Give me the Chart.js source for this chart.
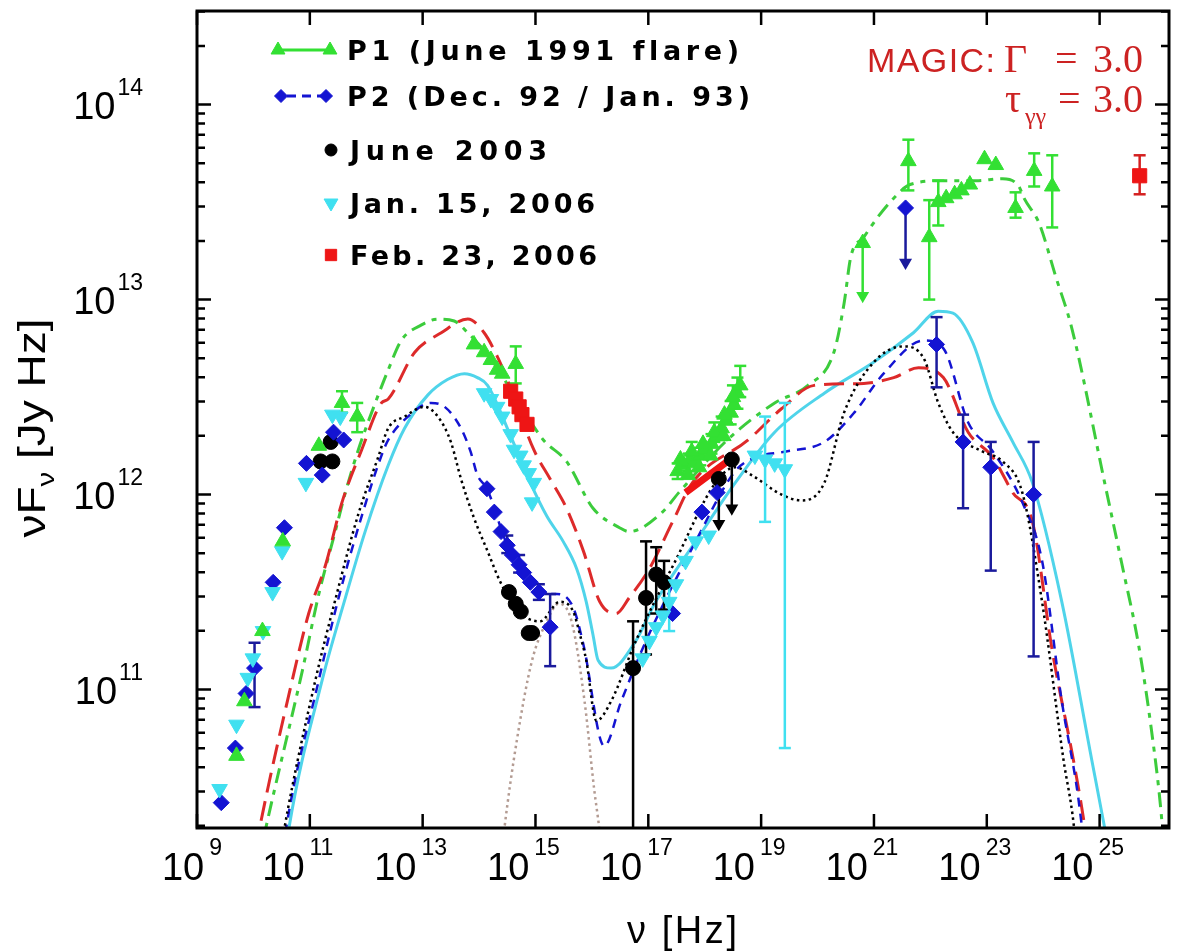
<!DOCTYPE html>
<html>
<head>
<meta charset="utf-8">
<script src="https://cdn.jsdelivr.net/npm/chart.js"></script>
<style>
  body { margin: 0; background: #fff; }
  #wrap { width: 1180px; height: 952px; }
</style>
</head>
<body>
<div id="wrap"><canvas id="sed" width="1180" height="952"></canvas></div>
<script>
// every value below is log10: [log nu (Hz), log nuFnu (Jy Hz), err low, err high]
const xTickExps = [9, 11, 13, 15, 17, 19, 21, 23, 25];
const yTickExps = [11, 12, 13, 14];
const yMinorSteps = [2, 3, 4, 5, 6, 7, 8, 9];
const xRange = [9, 26.23];
const yRange = [10.29, 14.48];

const legendLabels = ["P1 (June 1991 flare)", "P2 (Dec. 92 / Jan. 93)", "June 2003", "Jan. 15, 2006", "Feb. 23, 2006"];

// P1 (June 1991 flare)
const p1Points = [
  [9.70, 10.66], [9.84, 10.94], [10.16, 11.30], [10.52, 11.76], [11.16, 12.25],
  [11.57, 12.47, 12.42, 12.53], [11.84, 12.40, 12.32, 12.47],
  [13.91, 12.77], [14.09, 12.73], [14.21, 12.69], [14.32, 12.64], [14.41, 12.62], [14.65, 12.67, 12.57, 12.76],
  [17.52, 12.12, 12.08, 12.16], [17.62, 12.15], [17.72, 12.17, 12.12, 12.21], [17.82, 12.16],
  [17.92, 12.20, 12.15, 12.24], [18.02, 12.23], [18.12, 12.26, 12.21, 12.31], [18.22, 12.30],
  [18.30, 12.34, 12.28, 12.40], [18.38, 12.38], [18.46, 12.42, 12.36, 12.48], [18.52, 12.46],
  [18.58, 12.52, 12.44, 12.60], [18.63, 12.56, 12.50, 12.66],
  [17.57, 12.18], [17.77, 12.22, 12.18, 12.27], [17.97, 12.26], [18.17, 12.32, 12.27, 12.37],
  [18.35, 12.41], [18.50, 12.50, 12.44, 12.56], [17.70, 12.10], [17.90, 12.14], [18.10, 12.20], [18.33, 12.30],
  [20.80, 13.29], [21.61, 13.71, 13.56, 13.82], [21.98, 13.32, 13.00, 13.51], [22.14, 13.50, 13.38, 13.61],
  [22.28, 13.52], [22.43, 13.54], [22.55, 13.56], [22.70, 13.59], [22.96, 13.72], [23.16, 13.69],
  [23.51, 13.47, 13.42, 13.55], [23.84, 13.66, 13.58, 13.75], [24.16, 13.58, 13.37, 13.74]
];
const p1Limits = [[20.80, 13.29, 13.02]];

// P2 (Dec. 92 / Jan. 93)
const p2Points = [
  [9.43, 10.42], [9.68, 10.70], [9.87, 10.98], [10.02, 11.11, 10.91, 11.24], [10.35, 11.55], [10.55, 11.83],
  [10.94, 12.16], [11.22, 12.10], [11.42, 12.32], [11.60, 12.28],
  [14.14, 12.03], [14.27, 11.91], [14.39, 11.81], [14.50, 11.74, 11.70, 11.79], [14.59, 11.69],
  [14.71, 11.64, 11.60, 11.69], [14.79, 11.60], [14.91, 11.55], [15.06, 11.50, 11.46, 11.54],
  [15.26, 11.32, 11.12, 11.49],
  [17.43, 11.39], [17.95, 11.91], [18.22, 12.01],
  [21.56, 13.47], [22.11, 12.77, 12.55, 12.91], [22.58, 12.27, 11.93, 12.41],
  [23.07, 12.14, 11.61, 12.27], [23.83, 12.00, 11.17, 12.27]
];
const p2Limits = [[21.56, 13.47, 13.19]];

// June 2003
const june03Points = [
  [11.19, 12.17], [11.40, 12.17], [11.37, 12.27],
  [14.53, 11.50], [14.65, 11.44], [14.74, 11.40], [14.88, 11.29], [14.94, 11.29],
  [16.73, 11.11, 10.20, 11.35], [16.96, 11.47, 11.18, 11.76], [17.14, 11.59, 11.39, 11.73],
  [17.28, 11.55, 11.41, 11.66],
  [18.25, 12.08], [18.48, 12.18]
];
const june03Limits = [[18.25, 12.08, 11.85], [18.48, 12.18, 11.93]];

// Jan. 15, 2006
const jan06Points = [
  [9.40, 10.49], [9.70, 10.82], [9.90, 11.06], [9.99, 11.16], [10.17, 11.30], [10.34, 11.50], [10.51, 11.71],
  [10.93, 12.06], [11.40, 12.41], [11.54, 12.40],
  [14.09, 12.52], [14.21, 12.49], [14.32, 12.45], [14.41, 12.40], [14.56, 12.31], [14.62, 12.23],
  [14.73, 12.20], [14.79, 12.15], [14.88, 12.11], [14.97, 12.06], [14.94, 11.96],
  [16.90, 11.16], [17.02, 11.25], [17.14, 11.32], [17.26, 11.38], [17.37, 11.45, 11.30, 11.55],
  [17.49, 11.54], [17.66, 11.66], [17.84, 11.76], [18.07, 11.79],
  [18.89, 12.20], [19.07, 12.18, 11.86, 12.40], [19.24, 12.16], [19.42, 12.13, 10.70, 12.47]
];

// Feb. 23, 2006
const feb06Points = [
  [14.56, 12.53], [14.65, 12.49], [14.71, 12.45], [14.76, 12.41], [14.85, 12.36],
  [25.71, 13.635, 13.54, 13.74]
];
const feb06Xray = [[17.66, 12.01], [18.54, 12.20]];

// model curves
const p1Model = [
  [10.14, 10.18], [10.22, 10.29], [10.87, 11.10], [11.16, 11.49], [11.45, 11.81], [11.63, 12.01], [11.86, 12.23],
  [12.16, 12.47], [12.39, 12.64], [12.62, 12.79], [12.98, 12.87], [13.27, 12.90], [13.56, 12.89], [13.80, 12.83],
  [14.20, 12.70], [14.60, 12.52], [15.14, 12.28], [15.55, 12.17], [16.02, 11.93], [16.49, 11.83], [16.66, 11.81],
  [17.25, 11.91], [17.54, 12.01], [18.40, 12.28], [19.24, 12.47], [19.83, 12.56], [20.29, 12.73], [20.47, 12.98],
  [20.59, 13.22], [20.82, 13.32], [21.06, 13.42], [21.35, 13.52], [21.64, 13.59], [22.23, 13.61], [22.81, 13.61],
  [23.28, 13.62], [23.57, 13.58], [23.66, 13.52], [23.93, 13.39], [24.22, 13.12], [24.51, 12.85], [25.09, 12.06],
  [25.39, 11.65], [25.69, 11.23], [25.92, 10.79], [26.09, 10.37], [26.14, 10.18]
];
const p2Model = [
  [10.53, 10.18], [10.58, 10.29], [11.16, 11.05], [11.51, 11.47], [11.92, 11.89], [12.27, 12.20], [12.39, 12.28],
  [12.74, 12.40], [13.15, 12.47], [13.39, 12.45], [13.68, 12.34], [13.85, 12.22], [13.97, 12.10], [14.14, 12.03],
  [14.50, 11.74], [14.91, 11.55], [15.08, 11.49], [15.38, 11.49], [15.67, 11.42], [15.85, 11.23], [16.22, 10.71],
  [16.52, 10.94], [16.96, 11.25], [17.84, 11.76], [18.54, 12.12], [18.89, 12.19], [19.42, 12.22], [20.12, 12.27],
  [20.65, 12.42], [21.17, 12.62], [21.88, 12.79], [22.23, 12.75], [22.67, 12.37], [23.11, 12.22], [23.63, 11.96],
  [23.98, 11.66], [24.33, 10.94], [24.60, 10.49], [24.69, 10.29], [24.74, 10.18]
];
const june03Model = [
  [10.49, 10.18], [10.55, 10.29], [11.10, 11.05], [11.46, 11.47], [11.86, 11.90], [12.21, 12.19], [12.39, 12.34],
  [12.68, 12.40], [13.03, 12.45], [13.27, 12.40], [13.50, 12.27], [13.68, 12.08], [13.91, 11.88], [14.15, 11.71],
  [14.38, 11.55], [14.70, 11.40], [15.08, 11.35], [15.43, 11.45], [15.67, 11.40], [15.79, 11.28], [15.90, 11.15],
  [16.08, 10.84], [16.34, 10.94], [16.78, 11.25], [17.48, 11.66], [18.19, 12.06], [18.54, 12.14], [18.83, 12.10],
  [19.36, 12.00], [19.71, 11.97], [20.12, 12.06], [20.47, 12.42], [21.00, 12.68], [21.52, 12.76], [21.88, 12.70],
  [22.14, 12.47], [22.40, 12.32], [22.93, 12.22], [23.28, 12.17], [23.63, 12.01], [23.98, 11.45], [24.36, 10.64],
  [24.54, 10.31], [24.58, 10.18]
];
const jan06Model = [
  [10.58, 10.18], [10.63, 10.29], [11.22, 11.05], [11.63, 11.47], [11.98, 11.81], [12.39, 12.15], [12.68, 12.34],
  [13.09, 12.51], [13.44, 12.59], [13.74, 12.62], [13.97, 12.60], [14.15, 12.56], [14.56, 12.30], [14.91, 12.06],
  [15.20, 11.89], [15.49, 11.76], [15.73, 11.62], [15.90, 11.45], [16.02, 11.28], [16.11, 11.15], [16.34, 11.11],
  [16.78, 11.25], [17.13, 11.45], [17.84, 11.76], [18.54, 12.06], [19.24, 12.32], [20.12, 12.52], [21.00, 12.68],
  [21.70, 12.83], [22.14, 12.94], [22.40, 12.93], [22.75, 12.78], [23.11, 12.47], [23.46, 12.27], [23.81, 12.06],
  [24.33, 11.45], [24.86, 10.64], [25.09, 10.29], [25.16, 10.18]
];
const feb06Model = [
  [10.04, 10.18], [10.11, 10.29], [10.69, 11.05], [10.98, 11.39], [11.28, 11.64], [11.57, 11.96], [11.92, 12.23],
  [12.27, 12.47], [12.39, 12.49], [12.86, 12.73], [13.33, 12.83], [13.80, 12.90], [14.09, 12.83], [14.32, 12.71],
  [14.50, 12.59], [14.97, 12.23], [15.26, 12.08], [15.55, 11.93], [15.85, 11.71], [16.14, 11.45], [16.43, 11.39],
  [16.66, 11.47], [17.02, 11.62], [17.43, 11.86], [17.78, 12.06], [18.77, 12.28], [19.36, 12.44], [19.94, 12.56],
  [20.82, 12.57], [21.35, 12.60], [21.79, 12.65], [22.23, 12.60], [22.67, 12.32], [23.11, 12.19], [23.46, 12.01],
  [23.81, 11.86], [24.16, 11.20], [24.56, 10.60], [24.74, 10.29], [24.79, 10.18]
];
const diskModel = [
  [14.41, 10.18], [14.45, 10.29], [14.67, 10.74], [14.94, 11.15], [15.20, 11.35], [15.41, 11.44], [15.64, 11.35],
  [15.87, 10.94], [16.04, 10.49], [16.13, 10.29], [16.17, 10.18]
];

const GREEN = "#33e033", GREEN_LINE = "#3ccc3c", BLUE = "#1414d2", BLUE_ERR = "#1a1a9c",
  CYAN = "#40e0f0", CYAN_LINE = "#4fd4ea", RED = "#ee1515", RED_LINE = "#dd2a2a", TAN = "#b39b92",
  MAGIC_RED = "#cc2222";

const pw = v => Math.pow(10, v);
const toXY = p => ({ x: pw(p[0]), y: pw(p[1]) });

function markers(points, style, r, rot, color) {
  return {
    data: points.map(toXY), showLine: false, pointStyle: style, pointRadius: r, rotation: rot,
    pointBackgroundColor: color, pointBorderColor: color, pointBorderWidth: 1
  };
}

function errorBars(points, color) {
  const d = [];
  points.forEach(p => {
    if (p.length > 2) {
      d.push({ x: pw(p[0]), y: pw(p[2]) }, { x: pw(p[0]), y: pw(p[3]) }, { x: pw(p[0]), y: null });
    }
  });
  return {
    data: d, showLine: true, spanGaps: false, borderColor: color, borderWidth: 2.5,
    pointStyle: "line", pointRadius: 6, pointBorderColor: color, pointBorderWidth: 2.5
  };
}

function limitArrows(limits, color) {
  const d = [];
  limits.forEach(l => {
    d.push({ x: pw(l[0]), y: pw(l[1]) }, { x: pw(l[0]), y: pw(l[2]) }, { x: pw(l[0]), y: null });
  });
  return {
    data: d, showLine: true, spanGaps: false, borderColor: color, borderWidth: 2.5,
    pointStyle: "triangle", rotation: 180,
    pointRadius: c => (c.dataIndex % 3 === 1 ? 5 : 0),
    pointBackgroundColor: color, pointBorderColor: color
  };
}

function curve(points, color, dash, width) {
  return {
    data: points.map(toXY), showLine: true, borderColor: color, borderWidth: width || 3,
    borderDash: dash, pointRadius: 0, cubicInterpolationMode: "monotone"
  };
}

const datasets = [
  markers(feb06Points, "rect", 10, 0, RED),
  markers(p1Points, "triangle", 9, 0, GREEN),
  markers(jan06Points, "triangle", 9, 180, CYAN),
  markers(p2Points, "rectRot", 8, 0, BLUE),
  markers(june03Points, "circle", 7.5, 0, "#000"),
  errorBars(feb06Points, "#d42020"),
  errorBars(p1Points, GREEN),
  errorBars(jan06Points, CYAN),
  errorBars(p2Points, BLUE_ERR),
  errorBars(june03Points, "#000"),
  limitArrows(p1Limits, GREEN),
  limitArrows(p2Limits, BLUE_ERR),
  limitArrows(june03Limits, "#000"),
  curve(feb06Xray, RED, [], 7),
  curve(june03Model, "#000", [2.5, 3.5], 2.5),
  curve(p2Model, BLUE, [9, 7], 2.5),
  curve(feb06Model, RED_LINE, [20, 9], 3),
  curve(p1Model, GREEN_LINE, [15, 7, 5, 7], 3),
  curve(jan06Model, CYAN_LINE, [], 3),
  curve(diskModel, TAN, [2.5, 3.5], 2.5)
];

const SANS = '"Liberation Sans", Arial, Helvetica, sans-serif';
const WIDE = '"DejaVu Sans", Verdana, sans-serif';
const SERIF = '"Liberation Serif", "Times New Roman", serif';

// draws text so that it spans the given width
function fitText(ctx, text, x, y, width) {
  const w = ctx.measureText(text).width;
  ctx.save();
  if (w < width && "letterSpacing" in ctx) {
    ctx.letterSpacing = ((width - w) / Math.max(1, text.length - 1)) + "px";
    ctx.fillText(text, x, y);
  } else {
    ctx.translate(x, y);
    ctx.scale(width / w, 1);
    ctx.fillText(text, 0, 0);
  }
  ctx.restore();
}

function drawMarker(ctx, style, r, rot, color, x, y) {
  ctx.save();
  ctx.fillStyle = color;
  ctx.strokeStyle = color;
  ctx.lineWidth = 1;
  Chart.helpers.drawPoint(ctx, { pointStyle: style, radius: r, rotation: rot, borderWidth: 1 }, x, y);
  ctx.restore();
}

const framePlugin = {
  id: "frame",
  beforeDraw(chart) {
    const ctx = chart.ctx;
    ctx.save();
    ctx.fillStyle = "#fff";
    ctx.fillRect(0, 0, chart.width, chart.height);
    ctx.restore();
  },
  afterDraw(chart) {
    const { ctx, chartArea: a, scales } = chart;
    const xs = scales.x, ys = scales.y;
    ctx.save();
    ctx.strokeStyle = "#000";
    ctx.fillStyle = "#000";

    // ticks
    ctx.lineWidth = 2.5;
    ctx.beginPath();
    for (let d = 10; d <= 14; d++) {
      [1].concat(yMinorSteps).forEach(m => {
        const v = m * pw(d);
        if (v < ys.min || v > ys.max) return;
        const py = ys.getPixelForValue(v);
        const len = m === 1 ? 14 : 8;
        ctx.moveTo(a.left, py); ctx.lineTo(a.left + len, py);
        ctx.moveTo(a.right, py); ctx.lineTo(a.right - len, py);
      });
    }
    xTickExps.forEach(e => {
      const px = xs.getPixelForValue(pw(e));
      ctx.moveTo(px, a.bottom); ctx.lineTo(px, a.bottom - 14);
      ctx.moveTo(px, a.top); ctx.lineTo(px, a.top + 14);
    });
    ctx.stroke();

    // frame
    ctx.lineWidth = 3;
    ctx.strokeRect(a.left, a.top, a.right - a.left, a.bottom - a.top);

    // tick labels
    const baseFont = "38px " + SANS, expFont = "23px " + SANS;
    xTickExps.forEach(e => {
      const px = xs.getPixelForValue(pw(e));
      const s = String(e);
      ctx.font = baseFont;
      const wb = ctx.measureText("10").width;
      ctx.font = expFont;
      const we = ctx.measureText(s).width;
      const total = wb + 5 + we;
      const start = px + (s.length === 1 ? -5 : -12) - total / 2;
      ctx.textAlign = "left";
      ctx.font = baseFont;
      ctx.fillText("10", start, a.bottom + 52);
      ctx.font = expFont;
      ctx.fillText(s, start + wb + 5, a.bottom + 27);
    });
    yTickExps.forEach(e => {
      const py = ys.getPixelForValue(pw(e));
      const s = String(e);
      ctx.font = expFont;
      const we = ctx.measureText(s).width;
      ctx.textAlign = "left";
      ctx.fillText(s, a.left - 54 - we, py - 10);
      ctx.font = baseFont;
      ctx.textAlign = "right";
      ctx.fillText("10", a.left - 54 - we - 2, py + 14);
    });

    // axis titles
    ctx.textAlign = "left";
    ctx.font = "38px " + SANS;
    fitText(ctx, "\u03bd [Hz]", 627, 943, 110);

    ctx.save();
    ctx.translate(45, 428);
    ctx.rotate(-Math.PI / 2);
    ctx.font = "38px " + SANS;
    const t1 = "\u03bdF", t3 = " [Jy Hz]";
    const w1 = ctx.measureText(t1).width, w3 = ctx.measureText(t3).width;
    ctx.font = "24px " + SANS;
    const w2 = ctx.measureText("\u03bd").width;
    const scaleT = 219 / (w1 + w2 + w3);
    ctx.scale(scaleT, 1);
    let u = -(w1 + w2 + w3) / 2;
    ctx.font = "38px " + SANS;
    ctx.fillText(t1, u, 0); u += w1;
    ctx.font = "24px " + SANS;
    ctx.fillText("\u03bd", u, 9); u += w2;
    ctx.font = "38px " + SANS;
    ctx.fillText(t3, u, 0);
    ctx.restore();

    // legend
    const rows = [50, 96, 150, 203, 255];
    ctx.lineWidth = 3;
    ctx.strokeStyle = GREEN;
    ctx.beginPath(); ctx.moveTo(278, rows[0]); ctx.lineTo(330, rows[0]); ctx.stroke();
    drawMarker(ctx, "triangle", 8, 0, GREEN, 278, rows[0]);
    drawMarker(ctx, "triangle", 8, 0, GREEN, 330, rows[0]);
    ctx.strokeStyle = BLUE;
    ctx.setLineDash([9, 6]);
    ctx.beginPath(); ctx.moveTo(287, rows[1]); ctx.lineTo(325, rows[1]); ctx.stroke();
    ctx.setLineDash([]);
    drawMarker(ctx, "rectRot", 6.5, 0, BLUE, 281, rows[1]);
    drawMarker(ctx, "rectRot", 6.5, 0, BLUE, 326, rows[1]);
    drawMarker(ctx, "circle", 6, 0, "#000", 331, rows[2]);
    drawMarker(ctx, "triangle", 8, 180, CYAN, 331, rows[3]);
    drawMarker(ctx, "rect", 8, 0, RED, 331, rows[4]);

    ctx.fillStyle = "#000";
    ctx.font = "bold 27px " + WIDE;
    ctx.textAlign = "left";
    const legX = [347, 347, 350, 350, 350];
    const legW = [391, 403, 197, 245, 247];
    legendLabels.forEach((t, i) => fitText(ctx, t, legX[i], rows[i] + 10, legW[i]));

    // MAGIC annotation
    ctx.fillStyle = MAGIC_RED;
    ctx.font = "34px " + SANS;
    fitText(ctx, "MAGIC:", 867, 72, 128);
    ctx.font = "40px " + SERIF;
    ctx.fillText("\u0393", 1004, 72);
    ctx.fillText("=", 1055, 72);
    ctx.fillText("3.0", 1093, 72);
    ctx.fillText("\u03c4", 1005, 112);
    ctx.font = "24px " + SERIF;
    ctx.fillText("\u03b3\u03b3", 1025, 124);
    ctx.font = "40px " + SERIF;
    ctx.fillText("=", 1058, 112);
    ctx.fillText("3.0", 1093, 112);

    ctx.restore();
  }
};

new Chart(document.getElementById("sed"), {
  type: "scatter",
  data: { datasets: datasets },
  options: {
    responsive: false,
    animation: false,
    devicePixelRatio: 1,
    layout: { padding: { left: 197, right: 2, top: 6, bottom: 124 } },
    scales: {
      x: { type: "logarithmic", min: pw(xRange[0]), max: pw(xRange[1]), display: false },
      y: { type: "logarithmic", min: pw(yRange[0]), max: pw(yRange[1]), display: false }
    },
    plugins: { legend: { display: false }, tooltip: { enabled: false } }
  },
  plugins: [framePlugin]
});
</script>
</body>
</html>
